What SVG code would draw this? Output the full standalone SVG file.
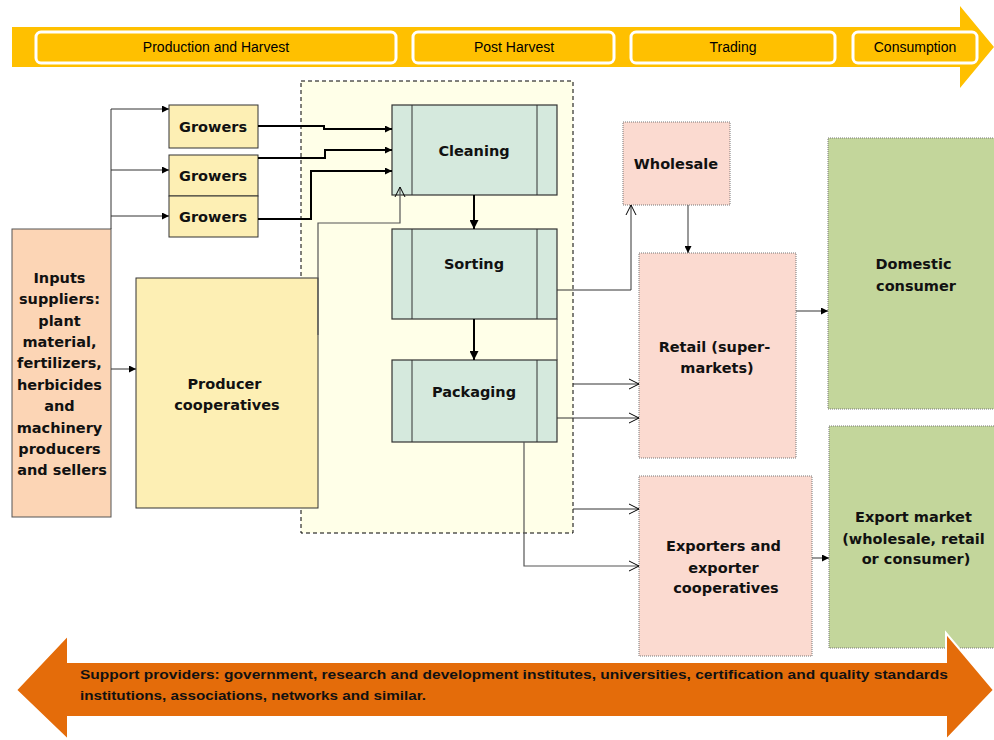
<svg xmlns="http://www.w3.org/2000/svg" width="994" height="740" viewBox="0 0 994 740">
  <defs>
    <marker id="solid" viewBox="0 0 10 10" refX="10" refY="5" markerWidth="7" markerHeight="7" markerUnits="userSpaceOnUse" orient="auto">
      <path d="M0,0 L10,5 L0,10 z" fill="#000"/>
    </marker>
    <marker id="solidBig" viewBox="0 0 10 10" refX="10" refY="5" markerWidth="9" markerHeight="9" markerUnits="userSpaceOnUse" orient="auto">
      <path d="M0,0 L10,5 L0,10 z" fill="#000"/>
    </marker>
    <marker id="open" viewBox="0 0 12 12" refX="11" refY="6" markerWidth="12" markerHeight="12" markerUnits="userSpaceOnUse" orient="auto">
      <path d="M1,1 L11,6 L1,11" fill="none" stroke="#000" stroke-width="1"/>
    </marker>
  </defs>
  <style>
    .stage { fill: #ffc000; stroke: #fff; stroke-width: 3; }
    .stageText { font-family: "Liberation Sans", Arial, sans-serif; font-size: 14px; fill: #000; text-anchor: middle; }
    .label { font-family: "DejaVu Sans", Verdana, sans-serif; font-weight: bold; font-size: 14.5px; fill: #111; text-anchor: middle; }
    .yellow { fill: #fdefb4; stroke: #333; stroke-width: 1; }
    .peach { fill: #fcd5b5; stroke: #555; stroke-width: 1; }
    .mint { fill: #d5e9dd; stroke: #333; stroke-width: 1.2; }
    .pink { fill: #fbdad0; stroke: #777; stroke-width: 1; stroke-dasharray: 1 1; }
    .green { fill: #c3d69b; stroke: #777; stroke-width: 1; stroke-dasharray: 1 1; }
    .thick { fill: none; stroke: #000; stroke-width: 2; }
    .thin { fill: none; stroke: #333; stroke-width: 1; }
    .gray { fill: none; stroke: #555; stroke-width: 1.2; }
  </style>

  <!-- Value chain stages banner -->
  <g id="stages">
    <path d="M12,27 H960 V6 L994,47 L960,88 V67 H12 z" fill="#ffc000"/>
    <rect class="stage" x="36" y="32" width="360" height="31" rx="5"/>
    <rect class="stage" x="413" y="32" width="201" height="31" rx="5"/>
    <rect class="stage" x="631" y="32" width="204" height="31" rx="5"/>
    <rect class="stage" x="853" y="32" width="124" height="31" rx="5"/>
    <text class="stageText" x="216" y="52">Production and Harvest</text>
    <text class="stageText" x="514" y="52">Post Harvest</text>
    <text class="stageText" x="733" y="52">Trading</text>
    <text class="stageText" x="915" y="52">Consumption</text>
  </g>

  <!-- Post-harvest processing area -->
  <g id="postharvest-area">
    <rect x="301" y="81" width="272" height="452" fill="#ffffe8" stroke="#000" stroke-width="1" stroke-dasharray="4 3"/>
  </g>

  <g id="inputs">
    <rect class="peach" x="12" y="229" width="99" height="288"/>
    <text class="label">
      <tspan x="62" y="283">Inputs</tspan>
      <tspan x="62" y="304">suppliers:</tspan>
      <tspan x="62" y="326">plant</tspan>
      <tspan x="62" y="347">material,</tspan>
      <tspan x="62" y="368">fertilizers,</tspan>
      <tspan x="62" y="390">herbicides</tspan>
      <tspan x="62" y="411">and</tspan>
      <tspan x="62" y="433">machinery</tspan>
      <tspan x="62" y="454">producers</tspan>
      <tspan x="62" y="475">and sellers</tspan>
    </text>
  </g>

  <g id="growers1">
    <rect class="yellow" x="169" y="105" width="89" height="43"/>
    <text class="label" x="213" y="132">Growers</text>
  </g>
  <g id="growers2">
    <rect class="yellow" x="169" y="155" width="89" height="41"/>
    <text class="label" x="213" y="181">Growers</text>
  </g>
  <g id="growers3">
    <rect class="yellow" x="169" y="196" width="89" height="41"/>
    <text class="label" x="213" y="222">Growers</text>
  </g>

  <g id="producer-cooperatives">
    <rect class="yellow" x="136" y="278" width="182" height="230"/>
    <text class="label">
      <tspan x="227" y="389">Producer</tspan>
      <tspan x="227" y="410">cooperatives</tspan>
    </text>
  </g>

  <g id="cleaning">
    <rect class="mint" x="392" y="105" width="165" height="90"/>
    <path class="thin" d="M412,105 V195 M537,105 V195"/>
    <text class="label" x="474" y="156">Cleaning</text>
  </g>
  <g id="sorting">
    <rect class="mint" x="392" y="229" width="165" height="90"/>
    <path class="thin" d="M412,229 V319 M537,229 V319"/>
    <text class="label" x="474" y="269">Sorting</text>
  </g>
  <g id="packaging">
    <rect class="mint" x="392" y="360" width="165" height="82"/>
    <path class="thin" d="M412,360 V442 M537,360 V442"/>
    <text class="label" x="474" y="397">Packaging</text>
  </g>

  <g id="wholesale">
    <rect class="pink" x="623" y="122" width="107" height="83"/>
    <text class="label" x="676" y="169">Wholesale</text>
  </g>
  <g id="retail">
    <rect class="pink" x="639" y="253" width="157" height="205"/>
    <text class="label">
      <tspan x="717" y="352">Retail (super-</tspan>
      <tspan x="717" y="373">markets)</tspan>
    </text>
  </g>
  <g id="exporters">
    <rect class="pink" x="639" y="476" width="173" height="180"/>
    <text class="label">
      <tspan x="726" y="551">Exporters and</tspan>
      <tspan x="726" y="573">exporter</tspan>
      <tspan x="726" y="593">cooperatives</tspan>
    </text>
  </g>

  <g id="domestic-consumer">
    <rect class="green" x="828" y="138" width="170" height="271"/>
    <text class="label">
      <tspan x="916" y="269">Domestic</tspan>
      <tspan x="916" y="291">consumer</tspan>
    </text>
  </g>
  <g id="export-market">
    <rect class="green" x="829" y="426" width="170" height="222"/>
    <text class="label">
      <tspan x="916" y="522">Export market</tspan>
      <tspan x="916" y="544">(wholesale, retail</tspan>
      <tspan x="916" y="564">or consumer)</tspan>
    </text>
  </g>

  <!-- Connectors -->
  <g id="connectors">
    <!-- input supplies to growers and cooperatives -->
    <path class="thin" d="M111,229 V109"/>
    <path class="thin" d="M111,109 H169" marker-end="url(#solid)"/>
    <path class="thin" d="M111,170 H169" marker-end="url(#solid)"/>
    <path class="thin" d="M111,216 H169" marker-end="url(#solid)"/>
    <path class="thin" d="M111,369 H136" marker-end="url(#solid)"/>

    <!-- growers to cleaning -->
    <path class="thick" d="M258,126 H324 V129 H392" marker-end="url(#solid)"/>
    <path class="thick" d="M258,158 H325 V150 H392" marker-end="url(#solid)"/>
    <path class="thick" d="M258,219 H311 V171 H392" marker-end="url(#solid)"/>

    <!-- cooperatives to cleaning -->
    <path class="gray" d="M318,335 V223 H400 V187" marker-end="url(#open)"/>

    <!-- processing steps -->
    <path class="thick" d="M474,195 V229" marker-end="url(#solidBig)"/>
    <path class="thick" d="M474,319 V360" marker-end="url(#solidBig)"/>
    <path class="gray" d="M557,319 V360"/>

    <!-- to trading -->
    <path class="thin" d="M557,290 H631 V205" marker-end="url(#open)"/>
    <path class="thin" d="M573,384 H639" marker-end="url(#open)"/>
    <path class="thin" d="M557,418 H639" marker-end="url(#open)"/>
    <path class="thin" d="M573,509 H639" marker-end="url(#open)"/>
    <path class="gray" d="M524,442 V566 H639" marker-end="url(#open)"/>

    <!-- trading to consumption -->
    <path class="gray" d="M688,205 V253" marker-end="url(#solid)"/>
    <path class="gray" d="M796,311 H828" marker-end="url(#solid)"/>
    <path class="gray" d="M812,558 H829" marker-end="url(#solid)"/>
  </g>

  <!-- Support providers band -->
  <g id="support-providers">
    <path d="M16,690 L68,635 V662 H946 V633 L994,690 L946,740 V717 H68 V740 z" fill="#e46c0a" stroke="#fff" stroke-width="2"/>
    <text font-family="'Liberation Sans', Arial, sans-serif" font-weight="bold" font-size="13px" fill="#111">
      <tspan x="80" y="679" textLength="868" lengthAdjust="spacingAndGlyphs">Support providers: government, research and development institutes,  universities, certification  and quality standards</tspan>
      <tspan x="80" y="700" textLength="346" lengthAdjust="spacingAndGlyphs">institutions, associations, networks and similar.</tspan>
    </text>
  </g>
</svg>
